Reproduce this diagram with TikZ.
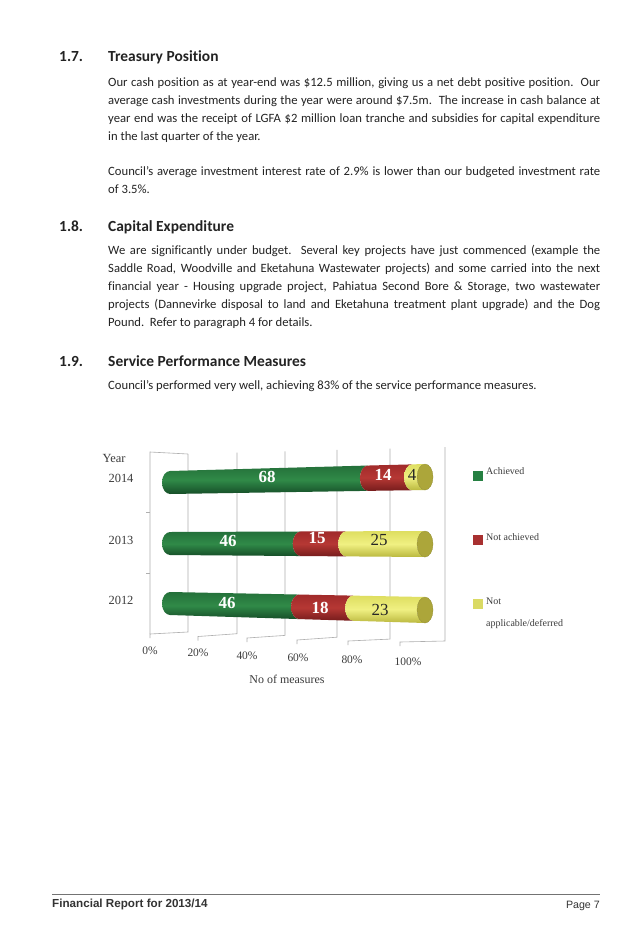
\documentclass[tikz,border=0pt]{standalone}
\usepackage{fontspec}
\setmainfont{Carlito}[Ligatures=NoCommon]
\newfontfamily\chartfont{Liberation Serif}
\newfontfamily\footfont{Liberation Sans}

\definecolor{txt}{RGB}{35,35,35}
\definecolor{chtxt}{RGB}{60,60,60}
\definecolor{gTop}{RGB}{36,112,58}
\definecolor{gMid}{RGB}{48,138,72}
\definecolor{gBot}{RGB}{22,78,40}
\definecolor{rTop}{RGB}{160,42,42}
\definecolor{rMid}{RGB}{182,56,52}
\definecolor{rBot}{RGB}{118,28,28}
\definecolor{yTop}{RGB}{222,222,96}
\definecolor{yMid}{RGB}{240,240,130}
\definecolor{yBot}{RGB}{186,184,62}
\definecolor{capC}{RGB}{172,166,58}
\definecolor{legG}{RGB}{38,128,66}
\definecolor{legR}{RGB}{168,48,48}
\definecolor{legY}{RGB}{218,218,100}
\definecolor{gridC}{RGB}{175,175,175}

\newcommand\jline[1]{\hbox to 492bp{#1}}

\begin{document}
\begin{tikzpicture}[
    x=1bp, y=-1bp,
    head/.style={anchor=base west, inner sep=0pt, text=txt, font=\fontsize{15.5}{18}\selectfont\bfseries},
    para/.style={anchor=base west, inner sep=0pt, text=txt, font=\fontsize{12.7}{18}\selectfont},
    gridline/.style={draw=gridC, line width=0.6bp},
    greenbar/.style={top color=gTop, bottom color=gBot, middle color=gMid},
    redbar/.style={top color=rTop, bottom color=rBot, middle color=rMid},
    yellowbar/.style={top color=yTop, bottom color=yBot, middle color=yMid},
    capend/.style={fill=capC, draw=capC!85!black, line width=0.3bp},
    wnum/.style={inner sep=0pt, text=white, font=\chartfont\bfseries\fontsize{17}{17}\selectfont},
    ynum/.style={inner sep=0pt, text=black!85, font=\chartfont\fontsize{17}{17}\selectfont},
    yearlab/.style={inner sep=0pt, text=chtxt, font=\chartfont\fontsize{12.5}{13}\selectfont},
    axlab/.style={inner sep=0pt, text=chtxt, font=\chartfont\fontsize{11.5}{12}\selectfont},
    legbox/.style={inner sep=0pt, minimum size=10bp},
    legtext/.style={anchor=base west, inner sep=0pt, text=chtxt, font=\chartfont\fontsize{10}{12}\selectfont},
    foot/.style={anchor=base, inner sep=0pt, text=black!80}
]

\fill[white] (0,0) rectangle (637,925);
\useasboundingbox (0,0) rectangle (637,925);

% Section 1.7

\node[head] (num17) at (59,61.7) {1.7.};
\node[head] (head17) at (108,61.7) {Treasury Position};

\node[para] (cash) at (108,86.5) {\vtop{%
\jline{Our cash position as at year-end was \$12.5 million, giving us a net debt positive position.\ \ Our}
\jline{average cash investments during the year were around \$7.5m.\ \ The increase in cash balance at}
\jline{year end was the receipt of LGFA \$2 million loan tranche and subsidies for capital expenditure}
\hbox{in the last quarter of the year.}}};

\node[para] (rate) at (108,175.7) {\vtop{%
\jline{Council’s average investment interest rate of 2.9\% is lower than our budgeted investment rate}
\hbox{of 3.5\%.}}};

% Section 1.8

\node[head] (num18) at (59,231.5) {1.8.};
\node[head] (head18) at (108,231.5) {Capital Expenditure};

\node[para] (capex) at (108,254.7) {\vtop{%
\jline{We are significantly under budget.\ \ Several key projects have just commenced (example the}
\jline{Saddle Road, Woodville and Eketahuna Wastewater projects) and some carried into the next}
\jline{financial year - Housing upgrade project, Pahiatua Second Bore \& Storage, two wastewater}
\jline{projects (Dannevirke disposal to land and Eketahuna treatment plant upgrade) and the Dog}
\hbox{Pound.\ \ Refer to paragraph 4 for details.}}};

% Section 1.9

\node[head] (num19) at (59,366.3) {1.9.};
\node[head] (head19) at (108,366.3) {Service Performance Measures};

\node[para] (perf) at (108,389) {Council’s performed very well, achieving 83\% of the service performance measures.};

% Chart walls and gridlines

\draw[gridline] (188,454) -- (150,452) -- (150,634);
\draw[gridline] (146,512) -- (150,512) (146,573) -- (150,573);
\foreach \xb/\yt/\yb/\xf/\yf in {188/454/632/150/634, 237/452.7/633.7/198/636.5, 285/451.4/635.4/247/638,
    337/449.9/637.2/297/640, 390/448.5/639.1/348/641, 445/447/641/400/642}
    \draw[gridline] (\xb,\yt) -- (\xb,\yb) -- (\xf,\yf) -- +(0,4);

% Bar 2014

\shade[greenbar] (170,471) arc (90:270:8bp and 11.5bp) -- (367.9,490.86) arc (270:90:8bp and 12.66bp) -- cycle;
\shade[redbar] (367.9,465.54) arc (90:270:8bp and 12.66bp) -- (412.1,490.22) arc (270:90:8bp and 12.92bp) -- cycle;
\shade[yellowbar] (412.1,464.38) arc (90:270:8bp and 12.92bp) -- (425,490) arc (270:90:8bp and 13bp) -- cycle;
\path[capend] (425,477) ellipse (8bp and 13bp);

% Bar 2013

\shade[greenbar] (170,532) arc (90:270:8bp and 11.5bp) -- (300.7,556.03) arc (270:90:8bp and 12.27bp) -- cycle;
\shade[redbar] (300.7,531.49) arc (90:270:8bp and 12.27bp) -- (346.2,556.39) arc (270:90:8bp and 12.54bp) -- cycle;
\shade[yellowbar] (346.2,531.31) arc (90:270:8bp and 12.54bp) -- (425,557) arc (270:90:8bp and 13bp) -- cycle;
\path[capend] (425,544) ellipse (8bp and 13bp);

% Bar 2012

\shade[greenbar] (170,592) arc (90:270:8bp and 11.5bp) -- (299.1,619.06) arc (270:90:8bp and 12.26bp) -- cycle;
\shade[redbar] (299.1,594.54) arc (90:270:8bp and 12.26bp) -- (353.2,620.78) arc (270:90:8bp and 12.58bp) -- cycle;
\shade[yellowbar] (353.2,595.62) arc (90:270:8bp and 12.58bp) -- (425,623) arc (270:90:8bp and 13bp) -- cycle;
\path[capend] (425,610) ellipse (8bp and 13bp);

% Bar values

\node[wnum] (ach14) at (267,477) {68};
\node[wnum] (not14) at (383,475) {14};
\node[ynum] (na14) at (412,475) {4};
\node[wnum] (ach13) at (228,541) {46};
\node[wnum] (not13) at (317,538) {15};
\node[ynum] (na13) at (379,540) {25};
\node[wnum] (ach12) at (227,603) {46};
\node[wnum] (not12) at (320,608) {18};
\node[ynum] (na12) at (380,610) {23};

% Axis labels

\node[yearlab] (yearhead) at (114,458) {Year};
\node[yearlab] (y14) at (121,478) {2014};
\node[yearlab] (y13) at (121,540) {2013};
\node[yearlab] (y12) at (121,600) {2012};

\node[axlab] (p0) at (150,650.7) {0\%};
\node[axlab] (p20) at (198,652.7) {20\%};
\node[axlab] (p40) at (247,656) {40\%};
\node[axlab] (p60) at (298,658) {60\%};
\node[axlab] (p80) at (352,660) {80\%};
\node[axlab] (p100) at (408,661.7) {100\%};
\node[axlab, font=\chartfont\fontsize{12}{12}\selectfont] (xtitle) at (287,679) {No of measures};

% Legend

\node[legbox, fill=legG] (keyach) at (478,475.5) {};
\node[legtext] (txtach) at (486,474.5) {Achieved};
\node[legbox, fill=legR] (keynot) at (478,540) {};
\node[legtext] (txtnot) at (486,540) {Not achieved};
\node[legbox, fill=legY] (keyna) at (478,604.3) {};
\node[legtext] (txtna) at (486,604) {Not};
\node[legtext] (txtna2) at (486,626) {applicable/deferred};

% Footer

\draw[black!55, line width=1bp] (52,894) -- (600,894);
\node[foot, anchor=base west, font=\footfont\bfseries\fontsize{11.7}{12}\selectfont] (report) at (52,907.5) {Financial Report for 2013/14};
\node[foot, anchor=base east, font=\footfont\fontsize{10.7}{12}\selectfont] (page) at (600,908.5) {Page 7};

\end{tikzpicture}
\end{document}
